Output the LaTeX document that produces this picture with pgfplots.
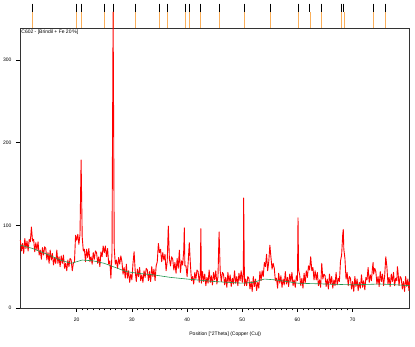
\documentclass[border=0pt]{standalone}
\usepackage{pgfplots}
\usepackage{pgfplotstable}
\pgfplotsset{compat=1.18}
\usepackage{fontspec}
\setmainfont{Liberation Sans}
\definecolor{xrdred}{RGB}{255,0,0}
\definecolor{bggreen}{RGB}{30,150,80}
\definecolor{refor}{RGB}{250,175,90}

\pgfplotstableread[row sep=\\]{
x y\\
9.8 82\\ 10.0 69\\ 10.2 78\\ 10.4 66\\ 10.6 84\\ 10.8 72\\ 11.0 81\\ 11.2 69\\ 11.4 83\\ 11.6 80\\
11.8 98\\ 12.0 81\\ 12.2 83\\ 12.4 68\\ 12.6 79\\ 12.8 70\\ 13.0 80\\ 13.2 64\\ 13.4 70\\ 13.6 59\\
13.8 73\\ 14.0 64\\ 14.2 74\\ 14.4 72\\ 14.6 58\\ 14.8 67\\ 15.0 54\\ 15.2 70\\ 15.4 58\\ 15.6 66\\
15.8 52\\ 16.0 61\\ 16.2 54\\ 16.4 70\\ 16.6 54\\ 16.8 62\\ 17.0 50\\ 17.2 63\\ 17.4 54\\ 17.6 64\\
17.8 48\\ 18.0 54\\ 18.2 45\\ 18.4 58\\ 18.6 50\\ 18.8 60\\ 19.0 58\\ 19.2 45\\ 19.4 54\\ 19.6 56\\
19.8 88\\ 20.0 82\\ 20.2 89\\ 20.4 77\\ 20.6 89\\ 20.8 179\\ 21.0 86\\ 21.2 69\\ 21.4 71\\ 21.6 56\\
21.8 71\\ 22.0 61\\ 22.2 72\\ 22.4 56\\ 22.6 62\\ 22.8 53\\ 23.0 67\\ 23.2 59\\ 23.4 69\\ 23.6 67\\
23.8 54\\ 24.0 62\\ 24.2 50\\ 24.4 68\\ 24.6 62\\ 24.8 75\\ 25.0 67\\ 25.2 75\\ 25.4 62\\ 25.6 72\\
25.8 53\\ 26.0 57\\ 26.2 36\\ 26.4 67\\ 26.6 358\\ 26.8 73\\ 27.0 53\\ 27.2 58\\ 27.4 48\\ 27.6 61\\
27.8 53\\ 28.0 63\\ 28.2 56\\ 28.4 41\\ 28.6 49\\ 28.8 36\\ 29.0 53\\ 29.2 36\\ 29.4 45\\ 29.6 31\\
29.8 41\\ 30.0 34\\ 30.2 54\\ 30.4 68\\ 30.6 45\\ 30.8 32\\ 31.0 47\\ 31.2 38\\ 31.4 49\\ 31.6 33\\
31.8 40\\ 32.0 31\\ 32.2 45\\ 32.4 37\\ 32.6 48\\ 32.8 46\\ 33.0 33\\ 33.2 44\\ 33.4 32\\ 33.6 50\\
33.8 38\\ 34.0 47\\ 34.2 33\\ 34.4 51\\ 34.6 56\\ 34.8 78\\ 35.0 67\\ 35.2 71\\ 35.4 56\\ 35.6 67\\
35.8 58\\ 36.0 65\\ 36.2 45\\ 36.4 56\\ 36.6 99\\ 36.8 59\\ 37.0 51\\ 37.2 62\\ 37.4 59\\ 37.6 46\\
37.8 55\\ 38.0 42\\ 38.2 60\\ 38.4 48\\ 38.6 70\\ 38.8 43\\ 39.0 57\\ 39.2 52\\ 39.4 70\\ 39.5 97\\ 39.6 51\\
39.8 51\\ 40.0 38\\ 40.2 55\\ 40.4 79\\ 40.6 53\\ 40.8 33\\ 41.0 38\\ 41.2 29\\ 41.4 43\\ 41.6 35\\
41.8 46\\ 42.0 44\\ 42.2 31\\ 42.4 42\\ 42.5 96\\ 42.6 30\\ 42.8 44\\ 43.0 32\\ 43.2 41\\ 43.4 27\\ 43.6 37\\
43.8 30\\ 44.0 46\\ 44.2 31\\ 44.4 39\\ 44.6 28\\ 44.8 43\\ 45.0 34\\ 45.2 45\\ 45.4 29\\ 45.6 38\\
45.8 92\\ 46.0 45\\ 46.2 32\\ 46.4 43\\ 46.6 41\\ 46.8 28\\ 47.0 37\\ 47.2 25\\ 47.4 43\\ 47.6 31\\
47.8 40\\ 48.0 26\\ 48.2 36\\ 48.4 29\\ 48.6 45\\ 48.8 30\\ 49.0 38\\ 49.2 27\\ 49.4 42\\ 49.6 33\\
49.8 45\\ 50.0 31\\ 50.2 44\\ 50.25 133\\ 50.4 27\\ 50.6 35\\ 50.8 27\\ 51.0 38\\ 51.2 36\\ 51.4 23\\ 51.6 32\\
51.8 20\\ 52.0 38\\ 52.2 26\\ 52.4 35\\ 52.6 21\\ 52.8 31\\ 53.0 24\\ 53.2 44\\ 53.4 33\\ 53.6 45\\
53.8 38\\ 54.0 55\\ 54.2 50\\ 54.4 65\\ 54.6 45\\ 54.8 56\\ 55.0 76\\ 55.2 61\\ 55.4 47\\ 55.6 54\\
55.8 48\\ 56.0 33\\ 56.2 36\\ 56.4 24\\ 56.6 42\\ 56.8 30\\ 57.0 39\\ 57.2 25\\ 57.4 35\\ 57.6 28\\
57.8 44\\ 58.0 29\\ 58.2 37\\ 58.4 26\\ 58.6 41\\ 58.8 32\\ 59.0 43\\ 59.2 27\\ 59.4 34\\ 59.6 25\\
59.8 39\\ 60.0 33\\ 60.1 109\\ 60.2 46\\ 60.4 40\\ 60.6 27\\ 60.8 36\\ 61.0 24\\ 61.2 42\\ 61.4 30\\ 61.6 45\\
61.8 37\\ 62.0 51\\ 62.2 46\\ 62.4 62\\ 62.6 45\\ 62.8 49\\ 63.0 34\\ 63.2 45\\ 63.4 34\\ 63.6 43\\
63.8 27\\ 64.0 34\\ 64.2 25\\ 64.4 54\\ 64.6 35\\ 64.8 41\\ 65.0 39\\ 65.2 26\\ 65.4 35\\ 65.6 23\\
65.8 41\\ 66.0 29\\ 66.2 38\\ 66.4 24\\ 66.6 34\\ 66.8 27\\ 67.0 43\\ 67.2 28\\ 67.4 36\\ 67.6 32\\
67.8 57\\ 68.0 64\\ 68.2 89\\ 68.3 95\\ 68.4 71\\ 68.6 60\\ 68.8 35\\ 69.0 43\\ 69.2 27\\ 69.4 38\\ 69.6 36\\
69.8 23\\ 70.0 32\\ 70.2 20\\ 70.4 38\\ 70.6 26\\ 70.8 35\\ 71.0 21\\ 71.2 31\\ 71.4 24\\ 71.6 40\\
71.8 25\\ 72.0 33\\ 72.2 22\\ 72.4 37\\ 72.6 34\\ 72.8 49\\ 73.0 31\\ 73.2 40\\ 73.4 33\\ 73.6 49\\ 73.7 55\\
73.8 41\\ 74.0 48\\ 74.2 44\\ 74.4 29\\ 74.6 38\\ 74.8 26\\ 75.0 44\\ 75.2 32\\ 75.4 41\\ 75.6 27\\
75.8 39\\ 76.0 62\\ 76.2 50\\ 76.4 29\\ 76.6 37\\ 76.8 26\\ 77.0 41\\ 77.2 32\\ 77.4 43\\ 77.6 27\\
77.8 36\\ 78.0 33\\ 78.1 50\\ 78.2 45\\ 78.4 27\\ 78.6 38\\ 78.8 36\\ 79.0 23\\ 79.2 32\\ 79.4 20\\ 79.6 38\\
79.8 26\\ 80.0 35\\ 80.2 21\\ 80.3 32\\
}\xrd

\pgfplotstableread[row sep=\\]{
x y\\
9.8 76\\ 12 72\\ 15 64\\ 17 58\\ 19 54\\ 19.5 55\\ 21 58\\ 23 57\\ 25 54\\ 27 49\\ 29 44\\ 31 42\\
34 40\\ 37 37\\ 40 35\\ 45 32\\ 50 30\\ 52 31\\ 54 35\\ 56 34\\ 58 32\\ 60 30\\ 65 29\\ 70 28\\
75 29\\ 78 28\\ 80.3 27\\
}\bkg

\pgfplotstableread[row sep=\\]{
x y m\\
11.96 0.64 0.83\\ 19.87 0.64 0.83\\ 20.78 0.64 0.83\\ 25.00 0.64 0.83\\ 26.63 0.64 0.83\\
30.56 0.64 0.83\\ 34.96 0.64 0.83\\ 36.49 0.64 0.83\\ 39.62 0.64 0.83\\ 40.40 0.64 0.83\\
42.39 0.64 0.83\\ 45.83 0.64 0.83\\ 50.31 0.64 0.83\\ 55.02 0.64 0.83\\ 60.14 0.64 0.83\\
62.26 0.64 0.83\\ 64.38 0.64 0.83\\ 68.00 0.64 0.83\\ 68.42 0.64 0.83\\ 73.73 0.64 0.83\\
75.98 0.64 0.83\\
}\refs

\begin{document}
\begin{tikzpicture}
\path[use as bounding box] (-20pt,-39pt) rectangle (395pt,308pt);
% reference pattern markers above the plot
\begin{axis}[
  at={(0pt,279.5pt)}, anchor=south west,
  width=389.5pt, height=25pt, scale only axis,
  xmin=9.73, xmax=80.3, ymin=0, ymax=1,
  hide axis, clip=false]
  \addplot[refor, line width=0.7pt, ycomb, mark=none] table[x=x,y=y]{\refs};
  \addplot[black, only marks, mark=|, mark size=4pt, mark options={line width=0.9pt}] table[x=x,y=m]{\refs};
\end{axis}
% main diffractogram
\begin{axis}[
  width=389.5pt, height=279.5pt, scale only axis,
  xmin=9.73, xmax=80.3, ymin=0, ymax=338,
  clip=false,
  axis line style={black!80, line width=0.6pt},
  xtick={20,30,40,50,60,70},
  minor x tick num=9,
  ytick={0,100,200,300},
  xtick pos=bottom, ytick pos=left,
  tick align=outside,
  major tick length=4pt, minor tick length=2.5pt,
  tick style={black, line width=0.5pt},
  /pgf/number format/assume math mode=true,
  ticklabel style={font=\fontsize{5}{6}\selectfont},
  xticklabel style={yshift=-2pt},
  yticklabel style={xshift=-1pt},
  xlabel={Position [°2Theta] (Copper (Cu))},
  xlabel style={font=\fontsize{5}{6}\selectfont, at={(axis description cs:0.527,0)}, anchor=north, inner sep=0pt, yshift=-24pt},
]
  \addplot[xrdred, line width=0.9pt, mark=none, line join=round] table[x=x,y=y]{\xrd};
  \addplot[bggreen, line width=0.6pt, mark=none] table[x=x,y=y]{\bkg};
  \node[anchor=north west, inner sep=1.2pt, font=\fontsize{5}{6}\selectfont] at (rel axis cs:0,1) {C602 - [Brindil + Fe 20\,\%]};
\end{axis}
\end{tikzpicture}
\end{document}
